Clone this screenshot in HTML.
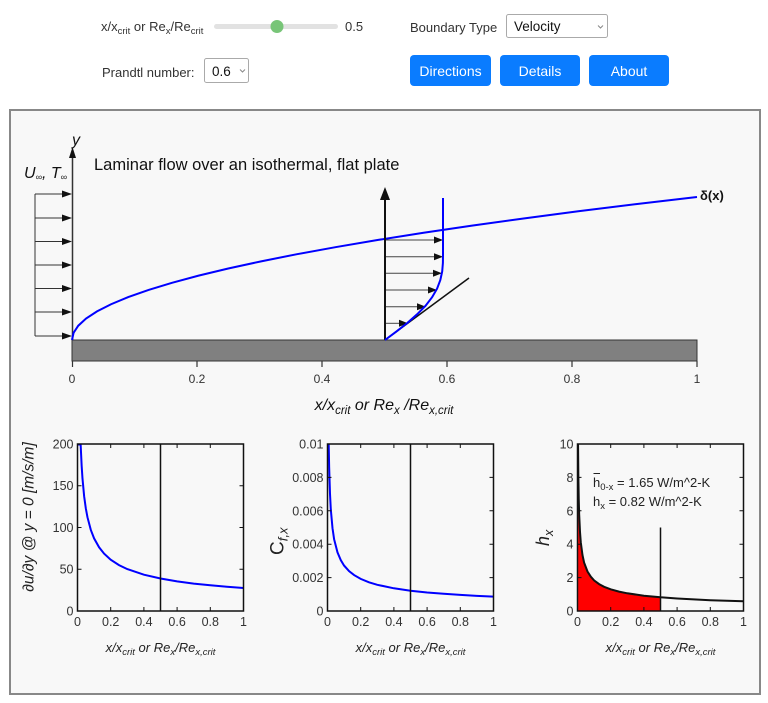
<!DOCTYPE html>
<html><head><meta charset="utf-8"><style>
html,body{margin:0;padding:0;background:#fff;width:768px;height:703px;overflow:hidden}
svg{display:block;font-family:"Liberation Sans",Arial,sans-serif}
</style></head><body>
<svg width="768" height="703" viewBox="0 0 768 703" xmlns="http://www.w3.org/2000/svg">
<!-- Controls -->
<text x="101" y="31" font-size="13" fill="#333">x/x<tspan font-size="9.5" dy="3">crit</tspan><tspan dy="-3"> or Re</tspan><tspan font-size="9.5" dy="3">x</tspan><tspan dy="-3">/Re</tspan><tspan font-size="9.5" dy="3">crit</tspan></text>
<rect x="214" y="24" width="124" height="5" rx="2.5" fill="#e2e2e2"/>
<circle cx="277" cy="26.5" r="6.5" fill="#78c578"/>
<text x="345" y="31" font-size="13" fill="#333">0.5</text>
<text x="410" y="32" font-size="13" fill="#333">Boundary Type</text>
<rect x="506.5" y="14.5" width="101" height="23" rx="2" fill="#fff" stroke="#aaa"/>
<text x="514" y="31" font-size="13.5" fill="#111">Velocity</text>
<path d="M598 25.5 L600.5 28 L603 25.5" fill="none" stroke="#888" stroke-width="1"/>
<text x="102" y="77" font-size="13" fill="#333">Prandtl number:</text>
<rect x="204.5" y="58.5" width="44" height="24" rx="2" fill="#fff" stroke="#aaa"/>
<text x="212" y="76" font-size="13.5" fill="#111">0.6</text>
<path d="M240 69.5 L242.5 72 L245 69.5" fill="none" stroke="#888" stroke-width="1"/>
<rect x="410" y="55" width="81" height="31" rx="4" fill="#0a7cff"/>
<rect x="500" y="55" width="80" height="31" rx="4" fill="#0a7cff"/>
<rect x="589" y="55" width="80" height="31" rx="4" fill="#0a7cff"/>
<text x="450.5" y="76" font-size="14" fill="#fff" text-anchor="middle">Directions</text>
<text x="540" y="76" font-size="14" fill="#fff" text-anchor="middle">Details</text>
<text x="629" y="76" font-size="14" fill="#fff" text-anchor="middle">About</text>

<!-- Panel -->
<rect x="10" y="110" width="750" height="584" fill="#f8f8f8" stroke="#888" stroke-width="2"/>

<!-- Top chart -->
<text x="94" y="170" font-size="16.5" fill="#111">Laminar flow over an isothermal, flat plate</text>
<text x="24" y="178" font-size="16" font-style="italic" fill="#111">U<tspan font-size="9" dy="2">∞</tspan><tspan dy="-2">,  T</tspan><tspan font-size="9" dy="2">∞</tspan></text>
<text x="72" y="145" font-size="16" font-style="italic" fill="#111">y</text>
<line x1="72.5" y1="340" x2="72.5" y2="156" stroke="#333" stroke-width="1.5"/>
<path d="M72.5 147 L69 158 L76 158 Z" fill="#111"/>
<!-- inlet arrows -->
<g stroke="#333" stroke-width="1">
<line x1="35" y1="194" x2="35" y2="336"/>
<line x1="35" y1="194" x2="63" y2="194"/>
<line x1="35" y1="218" x2="63" y2="218"/>
<line x1="35" y1="241.5" x2="63" y2="241.5"/>
<line x1="35" y1="265" x2="63" y2="265"/>
<line x1="35" y1="288.5" x2="63" y2="288.5"/>
<line x1="35" y1="312" x2="63" y2="312"/>
<line x1="35" y1="336" x2="63" y2="336"/>
</g>
<g fill="#111">
<path d="M72 194 L62 190.5 L62 197.5Z"/>
<path d="M72 218 L62 214.5 L62 221.5Z"/>
<path d="M72 241.5 L62 238 L62 245Z"/>
<path d="M72 265 L62 261.5 L62 268.5Z"/>
<path d="M72 288.5 L62 285 L62 292Z"/>
<path d="M72 312 L62 308.5 L62 315.5Z"/>
<path d="M72 336 L62 332.5 L62 339.5Z"/>
</g>
<!-- plate -->
<rect x="72" y="340" width="625" height="21" fill="#808080" stroke="#333" stroke-width="1"/>
<g stroke="#333" stroke-width="1.2">
<line x1="72.5" y1="361" x2="72.5" y2="367"/>
<line x1="197" y1="361" x2="197" y2="367"/>
<line x1="322" y1="361" x2="322" y2="367"/>
<line x1="447" y1="361" x2="447" y2="367"/>
<line x1="572" y1="361" x2="572" y2="367"/>
<line x1="697" y1="361" x2="697" y2="367"/>
</g>
<g font-size="12" fill="#333" text-anchor="middle">
<text x="72" y="383">0</text><text x="197" y="383">0.2</text><text x="322" y="383">0.4</text>
<text x="447" y="383">0.6</text><text x="572" y="383">0.8</text><text x="697" y="383">1</text>
</g>
<text x="384" y="410" font-size="16" font-style="italic" fill="#111" text-anchor="middle">x/x<tspan font-size="11.5" dy="4">crit</tspan><tspan dy="-4"> or Re</tspan><tspan font-size="11.5" dy="4">x</tspan><tspan dy="-4"> /Re</tspan><tspan font-size="11.5" dy="4">x,crit</tspan></text>
<!-- delta curve -->
<polyline fill="none" stroke="#0000ff" stroke-width="2" points="72,340 73.56,332.85 78.25,325.7 86.06,318.55 97,311.4 111.06,304.25 128.25,297.1 148.6,289.95 172,282.8 198.6,275.65 228.25,268.5 261.1,261.35 297,254.2 336.1,247.05 378.25,239.9 423.6,232.75 472,225.6 523.6,218.45 578.25,211.3 636.1,204.15 697,197"/>
<text x="700" y="200" font-size="13" font-weight="bold" fill="#111">δ(x)</text>
<!-- velocity profile -->
<g stroke="#444" stroke-width="1">
<line x1="385" y1="240" x2="435" y2="240"/>
<line x1="385" y1="256.7" x2="435" y2="256.7"/>
<line x1="385" y1="273.3" x2="434" y2="273.3"/>
<line x1="385" y1="290" x2="428" y2="290"/>
<line x1="385" y1="306.7" x2="417" y2="306.7"/>
<line x1="385" y1="323.3" x2="399" y2="323.3"/>
</g>
<g fill="#111">
<path d="M443 240 L434 236.5 L434 243.5Z"/>
<path d="M443 256.7 L434 253.2 L434 260.2Z"/>
<path d="M442 273.3 L433 269.8 L433 276.8Z"/>
<path d="M437 290 L428 286.5 L428 293.5Z"/>
<path d="M426 306.7 L417 303.2 L417 310.2Z"/>
<path d="M408 323.3 L399 319.8 L399 326.8Z"/>
</g>
<line x1="385" y1="340" x2="385" y2="198" stroke="#111" stroke-width="2"/>
<path d="M385 187 L380 200 L390 200Z" fill="#111"/>
<line x1="385" y1="340" x2="469" y2="278" stroke="#111" stroke-width="1.5"/>
<polyline fill="none" stroke="#0000ff" stroke-width="2" points="443,198 443,254.4 442.9,263 442.2,271.5 440.3,280.1 437.1,288.6 432.1,297.2 425.5,305.8 417.1,314.3 407.4,322.9 396.5,331.4 385,340"/>

<!-- Bottom plot 1 -->
<polyline fill="none" stroke="#0000ff" stroke-width="2" points="77.5,444.5 80.64,444.5 81.65,465.8 82.48,478.4 84.14,496.2 85.8,508.3 87.46,517.2 90.78,529.8 94.1,538.4 99.08,547.3 104.06,553.6 110.7,559.7 119,565.1 127.3,569.1 143.9,574.7 160.5,578.5 177.1,581.4 193.7,583.6 210.3,585.3 226.9,586.8 243.5,588"/>
<line x1="160.5" y1="444" x2="160.5" y2="611" stroke="#111" stroke-width="1.5"/>
<rect x="77.5" y="444" width="166" height="167" fill="none" stroke="#111" stroke-width="1.5"/>
<g stroke="#111" stroke-width="1">
<path d="M110.7 611v-4M143.9 611v-4M177.1 611v-4M210.3 611v-4M110.7 444v4M143.9 444v4M177.1 444v4M210.3 444v4"/>
<path d="M77.5 569.25h4M77.5 527.5h4M77.5 485.75h4M243.5 569.25h-4M243.5 527.5h-4M243.5 485.75h-4"/>
</g>
<g font-size="12.5" fill="#333" text-anchor="middle">
<text x="77.5" y="626">0</text><text x="110.7" y="626">0.2</text><text x="143.9" y="626">0.4</text><text x="177.1" y="626">0.6</text><text x="210.3" y="626">0.8</text><text x="243.5" y="626">1</text>
</g>
<g font-size="12.5" fill="#333" text-anchor="end">
<text x="73.5" y="615.5">0</text><text x="73.5" y="573.7">50</text><text x="73.5" y="532">100</text><text x="73.5" y="490.2">150</text><text x="73.5" y="448.5">200</text>
</g>
<text transform="translate(33.5,517) rotate(-90)" font-size="15.5" font-style="italic" fill="#222" text-anchor="middle">∂u/∂y @ y = 0 [m/s/m]</text>
<text x="160.5" y="652" font-size="13" font-style="italic" fill="#222" text-anchor="middle">x/x<tspan font-size="9.5" dy="3">crit</tspan><tspan dy="-3"> or Re</tspan><tspan font-size="9.5" dy="3">x</tspan><tspan dy="-3">/Re</tspan><tspan font-size="9.5" dy="3">x,crit</tspan></text>

<!-- Bottom plot 2 -->
<polyline fill="none" stroke="#0000ff" stroke-width="2" points="328.7,444.5 329.16,467.4 330,493.8 330.8,509.4 332.5,528.1 334.1,539.2 337.5,552.4 340.8,560.2 344.1,565.6 349.1,571.2 354.1,575.1 360.7,578.9 369,582.3 377.3,584.8 393.9,588.3 410.5,590.7 427.1,592.5 443.7,593.8 460.3,594.9 476.9,595.9 493.5,596.6"/>
<line x1="410.5" y1="444" x2="410.5" y2="611" stroke="#111" stroke-width="1.5"/>
<rect x="327.5" y="444" width="166" height="167" fill="none" stroke="#111" stroke-width="1.5"/>
<g stroke="#111" stroke-width="1">
<path d="M360.7 611v-4M393.9 611v-4M427.1 611v-4M460.3 611v-4M360.7 444v4M393.9 444v4M427.1 444v4M460.3 444v4"/>
<path d="M327.5 577.6h4M327.5 544.2h4M327.5 510.8h4M327.5 477.4h4M493.5 577.6h-4M493.5 544.2h-4M493.5 510.8h-4M493.5 477.4h-4"/>
</g>
<g font-size="12.5" fill="#333" text-anchor="middle">
<text x="327.5" y="626">0</text><text x="360.7" y="626">0.2</text><text x="393.9" y="626">0.4</text><text x="427.1" y="626">0.6</text><text x="460.3" y="626">0.8</text><text x="493.5" y="626">1</text>
</g>
<g font-size="12.5" fill="#333" text-anchor="end">
<text x="323.5" y="615.5">0</text><text x="323.5" y="582">0.002</text><text x="323.5" y="548.7">0.004</text><text x="323.5" y="515.3">0.006</text><text x="323.5" y="481.9">0.008</text><text x="323.5" y="448.5">0.01</text>
</g>
<text transform="translate(283.5,555) rotate(-90)" font-size="19" fill="#222">C<tspan font-size="13" font-style="italic" dy="4">f,x</tspan></text>
<text x="410.5" y="652" font-size="13" font-style="italic" fill="#222" text-anchor="middle">x/x<tspan font-size="9.5" dy="3">crit</tspan><tspan dy="-3"> or Re</tspan><tspan font-size="9.5" dy="3">x</tspan><tspan dy="-3">/Re</tspan><tspan font-size="9.5" dy="3">x,crit</tspan></text>

<!-- Bottom plot 3 -->
<polygon fill="#ff0000" points="578.06,611 578.06,444.5 578.33,474 578.75,499.2 579.16,514.1 580,531.9 580.8,542.5 582.5,555.1 584.1,562.6 587.5,571.5 590.8,576.7 594.1,580.4 599.1,584.1 604.1,586.8 610.7,589.3 619,591.6 627.3,593.3 643.9,595.7 660.5,597.3 660.5,611"/>
<polyline fill="none" stroke="#111" stroke-width="2" points="578.06,444.5 578.33,474 578.75,499.2 579.16,514.1 580,531.9 580.8,542.5 582.5,555.1 584.1,562.6 587.5,571.5 590.8,576.7 594.1,580.4 599.1,584.1 604.1,586.8 610.7,589.3 619,591.6 627.3,593.3 643.9,595.7 660.5,597.3 677.1,598.5 693.7,599.4 710.3,600.2 726.9,600.8 743.5,601.3"/>
<line x1="660.5" y1="527.5" x2="660.5" y2="611" stroke="#111" stroke-width="1.5"/>
<rect x="577.5" y="444" width="166" height="167" fill="none" stroke="#111" stroke-width="1.5"/>
<g stroke="#111" stroke-width="1">
<path d="M610.7 611v-4M643.9 611v-4M677.1 611v-4M710.3 611v-4M610.7 444v4M643.9 444v4M677.1 444v4M710.3 444v4"/>
<path d="M577.5 577.6h4M577.5 544.2h4M577.5 510.8h4M577.5 477.4h4M743.5 577.6h-4M743.5 544.2h-4M743.5 510.8h-4M743.5 477.4h-4"/>
</g>
<g font-size="12.5" fill="#333" text-anchor="middle">
<text x="577.5" y="626">0</text><text x="610.7" y="626">0.2</text><text x="643.9" y="626">0.4</text><text x="677.1" y="626">0.6</text><text x="710.3" y="626">0.8</text><text x="743.5" y="626">1</text>
</g>
<g font-size="12.5" fill="#333" text-anchor="end">
<text x="573.5" y="615.5">0</text><text x="573.5" y="582">2</text><text x="573.5" y="548.7">4</text><text x="573.5" y="515.3">6</text><text x="573.5" y="481.9">8</text><text x="573.5" y="448.5">10</text>
</g>
<line x1="593.5" y1="473.5" x2="600" y2="473.5" stroke="#222" stroke-width="1"/>
<text x="593" y="487" font-size="13" fill="#222">h<tspan font-size="9.5" dy="3">0-x</tspan><tspan dy="-3"> = 1.65 W/m^2-K</tspan></text>
<text x="593" y="506" font-size="13" fill="#222">h<tspan font-size="9.5" dy="3">x</tspan><tspan dy="-3"> = 0.82 W/m^2-K</tspan></text>
<text transform="translate(549,546) rotate(-90)" font-size="18" font-style="italic" fill="#222">h<tspan font-size="12.5" dy="4">x</tspan></text>
<text x="660.5" y="652" font-size="13" font-style="italic" fill="#222" text-anchor="middle">x/x<tspan font-size="9.5" dy="3">crit</tspan><tspan dy="-3"> or Re</tspan><tspan font-size="9.5" dy="3">x</tspan><tspan dy="-3">/Re</tspan><tspan font-size="9.5" dy="3">x,crit</tspan></text>
</svg>
</body></html>
